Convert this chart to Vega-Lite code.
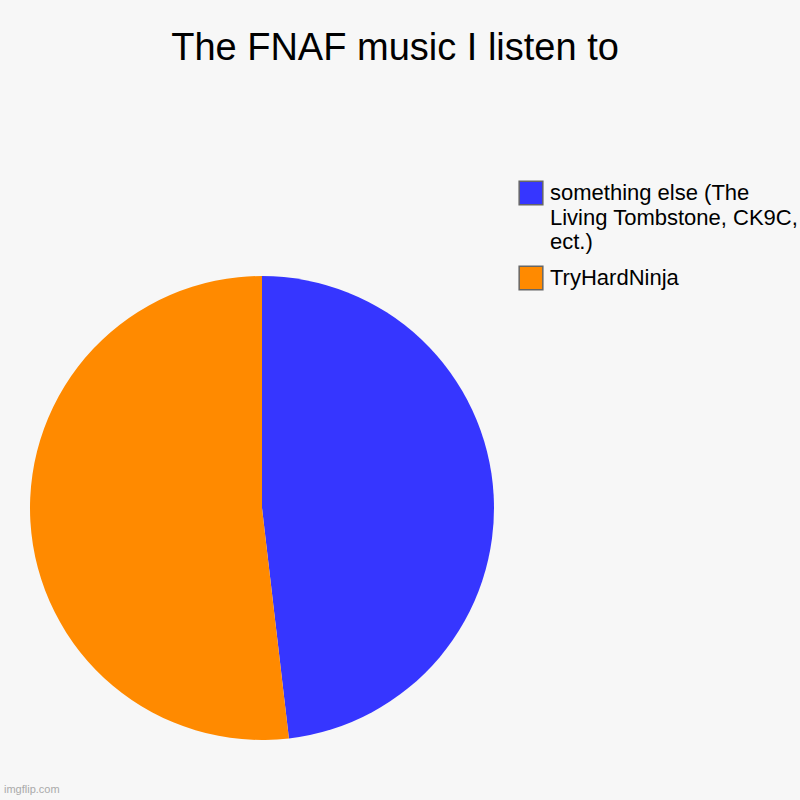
{
  "$schema": "https://vega.github.io/schema/vega-lite/v6.json",
  "autosize": "none",
  "width": 464,
  "height": 464,
  "padding": {"left": 30, "top": 276, "right": 306, "bottom": 60},
  "background": "#f7f7f7",
  "config": {"view": {"stroke": null}},
  "title": {
    "text": "The FNAF music I listen to",
    "font": "Liberation Sans",
    "fontSize": 38,
    "fontWeight": "normal",
    "color": "#000000",
    "anchor": "middle",
    "frame": "group",
    "baseline": "alphabetic",
    "dx": 133,
    "offset": 82.5
  },
  "data": {
    "values": [
      {"music": "something else (The Living Tombstone, CK9C, ect.)", "count": 13, "order": 1},
      {"music": "TryHardNinja", "count": 14, "order": 2}
    ]
  },
  "layer": [
    {
      "mark": {"type": "arc", "stroke": null},
      "encoding": {
        "theta": {"field": "count", "type": "quantitative", "stack": true},
        "order": {"field": "order", "type": "quantitative"},
        "color": {
          "field": "music",
          "type": "nominal",
          "scale": {
            "domain": ["something else (The Living Tombstone, CK9C, ect.)", "TryHardNinja"],
            "range": ["#3636ff", "#ff8a00"]
          },
          "legend": {
            "title": null,
            "orient": "none",
            "legendX": 488,
            "legendY": -96,
            "symbolType": "square",
            "symbolSize": 560,
            "symbolStrokeColor": "#666666",
            "symbolStrokeWidth": 1.5,
            "symbolOpacity": 1,
            "labelFont": "Liberation Sans",
            "labelFontSize": 22,
            "labelColor": "#000000",
            "labelOffset": 6,
            "labelLimit": 300,
            "rowPadding": 10,
            "labelExpr": "datum.label == 'TryHardNinja' ? datum.label : ['something else (The', 'Living Tombstone, CK9C,', 'ect.)']",
            "encode": {"labels": {"update": {"lineHeight": {"value": 24.5}}}}
          }
        }
      }
    },
    {
      "data": {"values": [{"text": "imgflip.com"}]},
      "mark": {"type": "text", "font": "Liberation Sans", "fontSize": 11, "color": "#aaaaaa", "align": "left", "baseline": "bottom"},
      "encoding": {
        "text": {"field": "text"},
        "x": {"value": -26},
        "y": {"value": 519}
      }
    }
  ]
}
